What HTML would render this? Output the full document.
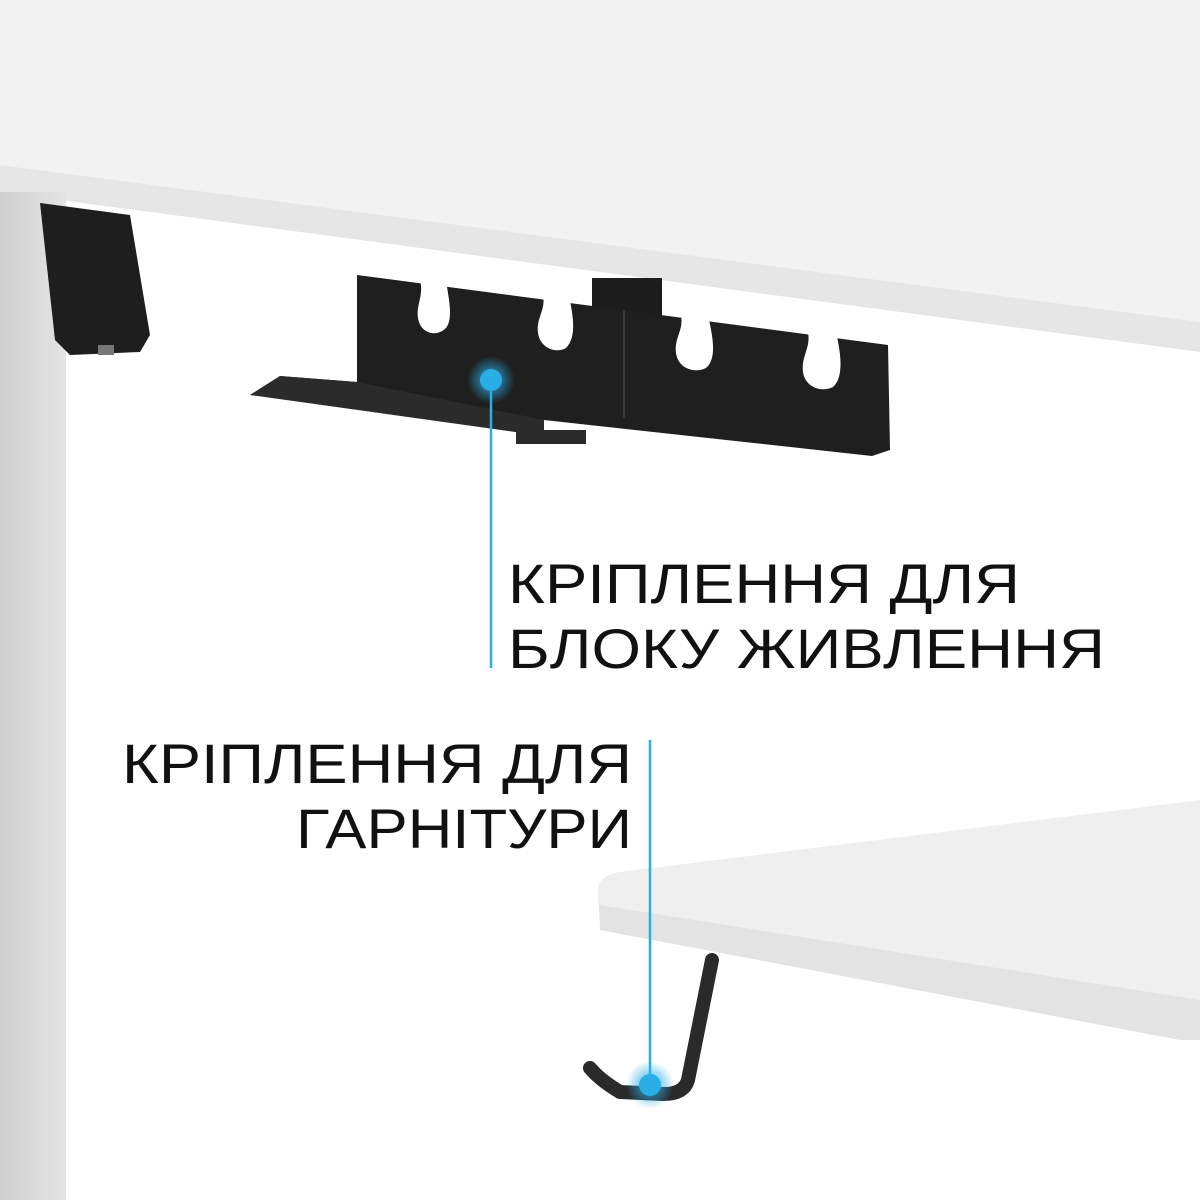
<!DOCTYPE html>
<html><head><meta charset="utf-8"><style>
html,body{margin:0;padding:0;background:#fff;}
svg{display:block;}
text{font-family:"Liberation Sans","DejaVu Sans",sans-serif;fill:#111;font-size:56px;}
</style></head><body>
<svg width="1200" height="1200" viewBox="0 0 1200 1200" xmlns="http://www.w3.org/2000/svg">
<defs>
<linearGradient id="leg" x1="0" x2="1" y1="0" y2="0">
<stop offset="0" stop-color="#cfcfcf"/><stop offset="1" stop-color="#e4e4e4"/></linearGradient>
<radialGradient id="glow"><stop offset="0.45" stop-color="#29aee6" stop-opacity="0.55"/><stop offset="1" stop-color="#29aee6" stop-opacity="0"/></radialGradient>
</defs>
<!-- upper desk -->
<polygon points="0,0 1200,0 1200,322 0,165" fill="#f2f2f2"/>
<polygon points="0,165 1200,322 1200,352 0,192" fill="#e6e6e6"/>
<!-- leg -->
<rect x="0" y="192" width="66" height="1008" fill="url(#leg)"/>
<polygon points="40,203 130,215 150,335 140,352 70,355 55,340" fill="#1e1e1e"/>
<rect x="98" y="345" width="16" height="10" fill="#777"/>
<!-- tray -->
<rect x="592" y="278" width="70" height="40" fill="#1d1d1d"/>
<polygon points="357,275 888,345 890,450 872,456 544,420 250,395 280,376 357,382" fill="#1f1f1f"/>
<polygon points="250,395 280,376 357,382 544,420 544,436" fill="#2b2b2b"/>
<rect x="516" y="430" width="70" height="14" fill="#2a2a2a"/>
<line x1="624" y1="310" x2="624" y2="418" stroke="#3a3a3a" stroke-width="2"/>
<g fill="#fff">
<path d="M420,280 L446,280 C448,296 454,318 446,328 C436,338 420,333 418,318 C416,304 424,296 420,280Z"/>
<path d="M543,295 L569,295 C572,312 578,336 566,348 C556,354 540,348 538,333 C536,318 546,310 543,295Z"/>
<path d="M681,315 L708,315 C712,334 718,358 706,368 C694,374 678,368 676,353 C674,338 684,330 681,315Z"/>
<path d="M808,332 L836,332 C840,350 845,376 833,387 C821,393 805,387 803,372 C801,356 811,348 808,332Z"/>
</g>
<!-- callout 1 -->
<line x1="491" y1="380" x2="491" y2="668" stroke="#29aee6" stroke-width="2.5"/>
<circle cx="491" cy="380" r="24" fill="url(#glow)"/>
<circle cx="491" cy="380" r="11" fill="#29aee6"/>
<text x="508" y="603" textLength="512" lengthAdjust="spacingAndGlyphs">КРІПЛЕННЯ ДЛЯ</text>
<text x="508" y="668" textLength="597" lengthAdjust="spacingAndGlyphs">БЛОКУ ЖИВЛЕННЯ</text>
<!-- lower desk -->
<path d="M620,872 L1200,800 L1200,1000 L600,905 L598,888 Q600,875 620,872Z" fill="#efefef"/>
<path d="M598,888 L600,905 L1200,1000 L1200,1040 L1180,1040 L600,930 Z" fill="#e3e3e3"/>
<!-- hook -->
<path d="M712,960 L688,1080 Q684,1094 664,1094 L620,1092 Q600,1080 590,1068" fill="none" stroke="#2a2a2a" stroke-width="14" stroke-linejoin="round" stroke-linecap="round"/>
<!-- callout 2 -->
<line x1="650" y1="740" x2="650" y2="1085" stroke="#29aee6" stroke-width="2.5"/>
<circle cx="650" cy="1085" r="24" fill="url(#glow)"/>
<circle cx="650" cy="1085" r="11" fill="#29aee6"/>
<text x="122" y="783" textLength="510" lengthAdjust="spacingAndGlyphs">КРІПЛЕННЯ ДЛЯ</text>
<text x="296" y="848" textLength="336" lengthAdjust="spacingAndGlyphs">ГАРНІТУРИ</text>
</svg>
</body></html>
